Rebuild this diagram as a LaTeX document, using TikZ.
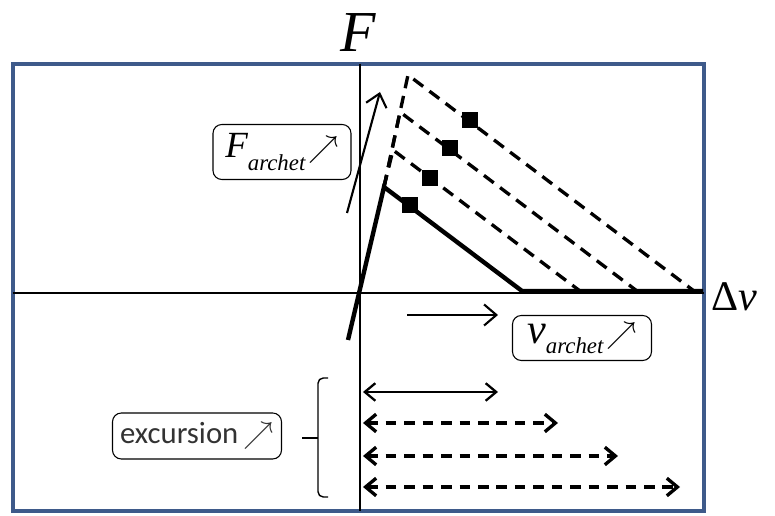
\documentclass[tikz,border=0pt]{standalone}
\usepackage{fontspec}
\setmainfont{Liberation Serif}
\newfontfamily\excfont{Carlito}
\usetikzlibrary{arrows.meta,positioning}

\definecolor{framecol}{RGB}{62,90,138}

\begin{document}
\begin{tikzpicture}[x=0.02cm,y=-0.02cm,
  frame/.style={draw=framecol,line width=2.3pt},
  axisline/.style={line width=0.7pt},
  curve/.style={line width=2.5pt},
  dashcurve/.style={line width=1.9pt,dash pattern=on 7pt off 4.5pt},
  exdash/.style={line width=1.9pt,dash pattern=on 6pt off 4.5pt},
  marker/.style={rectangle,fill=black,minimum size=9pt,inner sep=0pt},
  labelbox/.style={draw,rounded corners=5pt,line width=0.6pt,inner sep=1pt},
  tip/.style={-{Straight Barb[length=7pt,width=12pt]},line width=1.2pt},
  twotip/.style={{Straight Barb[length=6pt,width=10pt]}-{Straight Barb[length=6pt,width=10pt]}}
]
\useasboundingbox (0,0) rectangle (775,516);

% frame and axes
\draw[frame] (13,64) rectangle (704,511);
\coordinate (ytop) at (360,64);
\coordinate (ybot) at (360,511);
\coordinate (xleft) at (13,293);
\coordinate (xright) at (704,293);
\draw[axisline] (ytop) -- (ybot);
\draw[axisline] (xleft) -- (xright);
\node (Flabel) at (358,33) {\fontsize{33}{33}\selectfont\itshape F};
\node[anchor=west,inner sep=0pt] (dvlabel) at (711,297) {\fontsize{24}{24}\selectfont Δ\itshape v};

% force-velocity curves
\coordinate (base) at (348,340);
\coordinate (p0) at (384,187);
\coordinate (p1) at (393,150);
\coordinate (p2) at (400,112);
\coordinate (p3) at (408,75);
\coordinate (e0) at (522,291);
\coordinate (e1) at (580,291);
\coordinate (e2) at (637,291);
\coordinate (e3) at (694,291);
\coordinate (rend) at (703,291);
\foreach \i in {1,2,3}
  \draw[dashcurve] (p0) -- (p\i) -- (e\i);
\draw[curve] (base) -- (p0) -- (e0) -- (rend);
\foreach \i/\x/\y in {0/410/205,1/430/178,2/450/148,3/470/120}
  \node[marker] (sq\i) at (\x,\y) {};

% archet force
\coordinate (fa0) at (347,213);
\coordinate (fa1) at (380,92);
\draw[tip] (fa0) -- (fa1);
\node[labelbox,minimum width=2.76cm,minimum height=1.1cm] (Fbox) at (282,152)
  {{\fontsize{21}{21}\selectfont\itshape F}\raisebox{-7pt}{\fontsize{13}{13}\selectfont\itshape archet}\,{\fontsize{17}{17}\selectfont$\nearrow$}};

% archet velocity
\coordinate (va0) at (407,315);
\coordinate (va1) at (498,315);
\draw[tip] (va0) -- (va1);
\node[labelbox,minimum width=2.78cm,minimum height=0.9cm] (vbox) at (582,338)
  {{\fontsize{24}{24}\selectfont\itshape v}\raisebox{-6pt}{\fontsize{13}{13}\selectfont\itshape archet}\,{\fontsize{17}{17}\selectfont$\nearrow$}};

% excursions
\foreach \i/\y/\x/\pat in {1/392/498/solid,2/423/558/exdash,3/456/618/exdash,4/487/680/exdash}{
  \coordinate (xs\i) at (363,\y);
  \coordinate (xe\i) at (\x,\y);
  \draw[twotip,line width=1.3pt,\pat] (xs\i) -- (xe\i);
}
\coordinate (brtop) at (328,378);
\coordinate (brbot) at (328,497);
\coordinate (brmid) at (318,438);
\draw[line width=0.8pt,rounded corners=3pt] (brtop) -- (318,378) -- (318,497) -- (brbot);
\draw[line width=0.8pt] (brmid) -- +(-16,0) coordinate (brtip);
\node[labelbox,text=black!80,minimum width=3.38cm,minimum height=0.92cm] (excbox) at (197,436)
  {\excfont\fontsize{17.5}{17.5}\selectfont excursion\,$\nearrow$};
\end{tikzpicture}
\end{document}
